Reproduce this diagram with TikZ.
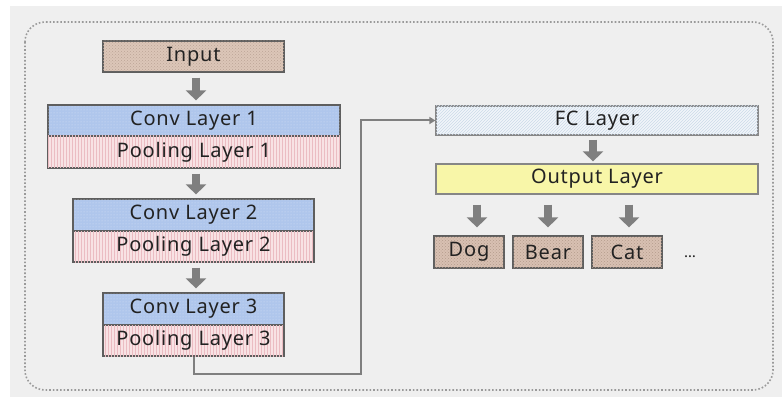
\documentclass[tikz,border=0pt]{standalone}
\usepackage{fontspec}
\setmainfont[LetterSpace=4]{Noto Sans}
\usetikzlibrary{patterns,arrows.meta,calc}
\definecolor{bggray}{HTML}{EFEFEF}
\definecolor{framegray}{HTML}{9A9A9A}
\definecolor{edgegray}{HTML}{5E5E5E}
\definecolor{arrowgray}{HTML}{7F7F7F}
\definecolor{txt}{HTML}{222222}
\definecolor{inputfill}{HTML}{DCC6B8}
\definecolor{inputpat}{HTML}{BCA496}
\definecolor{convfill}{HTML}{AFC6EC}
\definecolor{convpat}{HTML}{D6E2F6}
\definecolor{poolfill}{HTML}{F8E2E4}
\definecolor{poolpat}{HTML}{EBBCC2}
\definecolor{fcfill}{HTML}{F2F6FA}
\definecolor{fcpat}{HTML}{CCDAE8}
\definecolor{outfill}{HTML}{F8F6A8}
\definecolor{clsfill}{HTML}{D8C0B2}
\definecolor{clspat}{HTML}{B49C8C}
\tikzset{
  layer/.style={draw=edgegray, line width=1.2pt, text=txt, inner sep=0pt,
    font=\fontsize{20}{24}\selectfont},
  inputbox/.style={layer, fill=inputfill, postaction={pattern=crosshatch dots, pattern color=inputpat}},
  convbox/.style={layer, fill=convfill, postaction={pattern=dots, pattern color=convpat}},
  poolbox/.style={layer, fill=poolfill, postaction={pattern=vertical lines, pattern color=poolpat}},
  fcbox/.style={layer, draw=edgegray!75, fill=fcfill, postaction={pattern=north east lines, pattern color=fcpat}},
  outbox/.style={layer, draw=edgegray!75, fill=outfill},
  clsbox/.style={layer, fill=clsfill, postaction={pattern=crosshatch dots, pattern color=clspat},
    minimum width=70pt, minimum height=32pt},
  bigarrow/.style={draw=arrowgray, line width=8pt, -{Triangle[width=20pt,length=10pt]}, shorten <=5pt, shorten >=4pt},
  conn/.style={draw=arrowgray, line width=2pt, -{Triangle[width=7pt,length=6pt]}}
}
\begin{document}
\begin{tikzpicture}[x=1pt,y=-1pt]
\useasboundingbox (0,0) rectangle (782,401);
\fill[bggray] (10,6) rectangle (782,397);
\draw[framegray, line width=1.6pt, dotted, rounded corners=20pt] (25,22) rectangle (773,390);

\node[inputbox, minimum width=181pt, minimum height=31pt] (input) at (193.5,56.5) {Input};
\node[convbox, minimum width=292pt, minimum height=31pt] (conv1) at (194,120.5) {Conv Layer 1};
\node[poolbox, minimum width=292pt, minimum height=32pt] (pool1) at (194,152) {Pooling Layer 1};
\node[convbox, minimum width=241pt, minimum height=32pt] (conv2) at (193.5,215) {Conv Layer 2};
\node[poolbox, minimum width=241pt, minimum height=31pt] (pool2) at (193.5,246.5) {Pooling Layer 2};
\node[convbox, minimum width=181pt, minimum height=32pt] (conv3) at (193.5,309) {Conv Layer 3};
\node[poolbox, minimum width=181pt, minimum height=31pt] (pool3) at (193.5,340.5) {Pooling Layer 3};

\node[fcbox, minimum width=322pt, minimum height=29pt] (fc) at (597,120.5) {FC Layer};
\node[outbox, minimum width=322pt, minimum height=30pt] (out) at (597,179) {Output Layer};
\node[clsbox] (dog) at (469,252) {Dog};
\node[clsbox] (bear) at (548,252) {Bear};
\node[clsbox] (cat) at (627,252) {Cat};
\node[text=txt, font=\fontsize{15}{18}\selectfont, anchor=base] (more) at (690,257) {…};

\draw[bigarrow] (input.south -| 196,0) -- (conv1.north -| 196,0);
\draw[bigarrow] (pool1.south -| 196,0) -- (conv2.north -| 196,0);
\draw[bigarrow] (pool2.south -| 196,0) -- (conv3.north -| 196,0);
\draw[bigarrow, shorten <=4pt, shorten >=2pt] (fc.south -| 593,0) -- (out.north -| 593,0);
\draw[bigarrow, shorten <=10pt, shorten >=8pt] (out.south -| 477,0) -- (dog.north -| 477,0);
\draw[bigarrow, shorten <=10pt, shorten >=8pt] (out.south -| bear) -- (bear.north);
\draw[bigarrow, shorten <=10pt, shorten >=8pt] (out.south -| 629,0) -- (cat.north -| 629,0);

\coordinate (turn) at (361,374);
\draw[conn] (pool3.south) |- (turn) |- (fc.west);
\end{tikzpicture}
\end{document}
